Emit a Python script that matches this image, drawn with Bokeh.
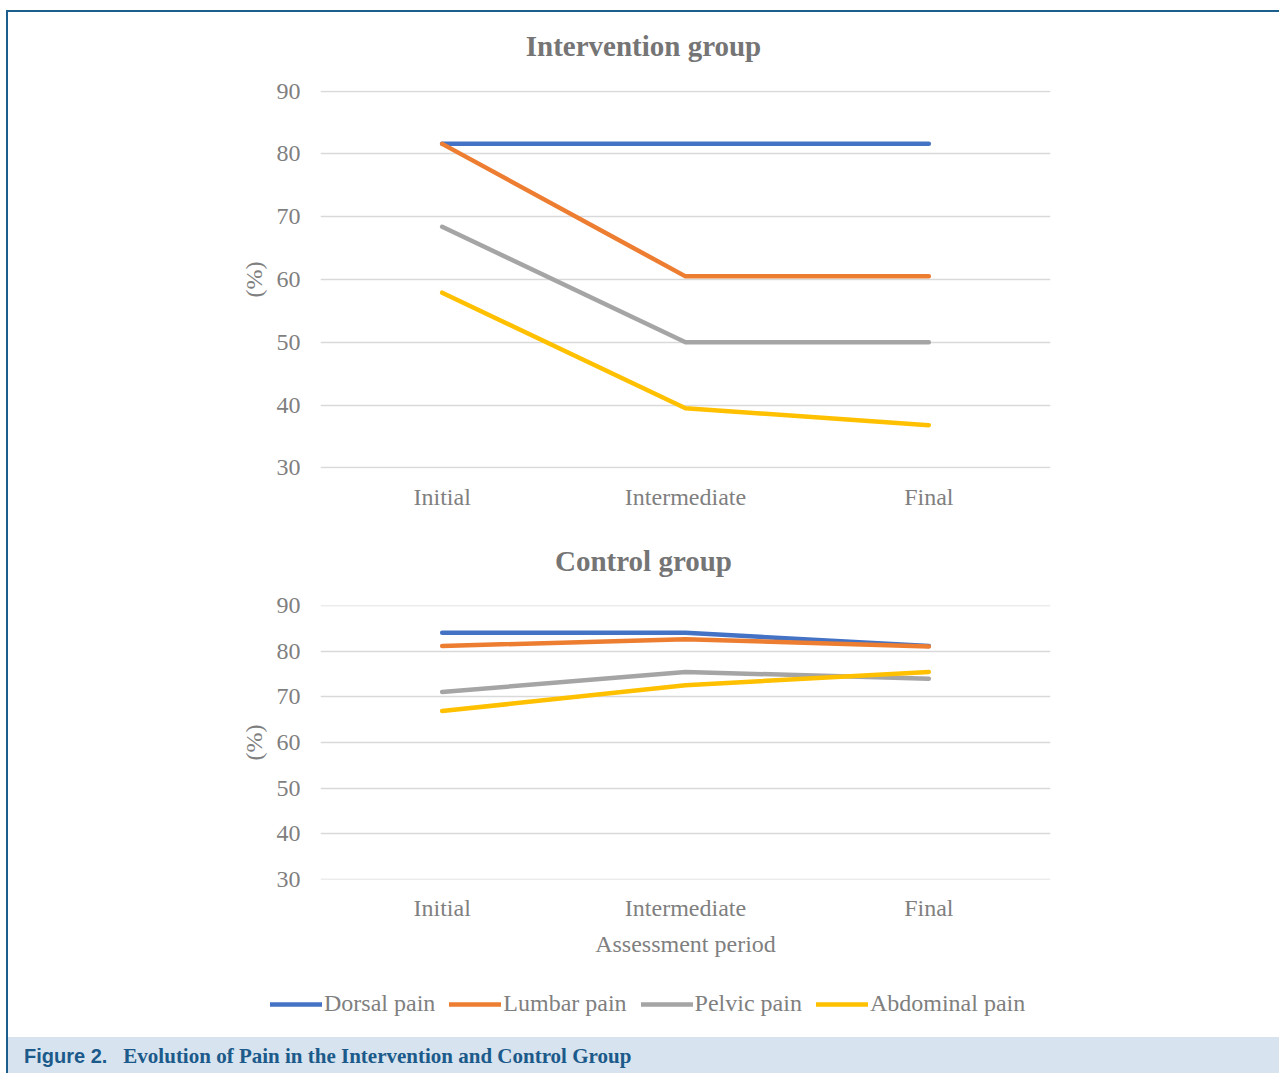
from bokeh.plotting import figure
from bokeh.models import (FactorRange, Range1d, FixedTicker, Legend, LegendItem,
                          Div, Spacer)
from bokeh.layouts import column, row
from bokeh.embed import file_html
from bokeh.resources import INLINE

periods = ["Initial", "Intermediate", "Final"]
series_names = ["Dorsal pain", "Lumbar pain", "Pelvic pain", "Abdominal pain"]
colors = ["#4472C4", "#ED7D31", "#A5A5A5", "#FFC000"]
y_ticks = [30, 40, 50, 60, 70, 80, 90]

# Intervention group (%)
int_dorsal = [81.6, 81.6, 81.6]
int_lumbar = [81.6, 60.5, 60.5]
int_pelvic = [68.4, 50.0, 50.0]
int_abdominal = [57.9, 39.5, 36.8]

# Control group (%)
ctl_dorsal = [84.1, 84.1, 81.2]
ctl_lumbar = [81.2, 82.7, 81.1]
ctl_pelvic = [71.1, 75.5, 74.0]
ctl_abdominal = [66.9, 72.6, 75.5]

SERIF = "Liberation Serif"
GRAY = "#7f7f7f"
BLUE_BORDER = "#1c5f8e"

FIG_W = 1271
LINE_W = 4.5


def make_fig(data, height, top, bottom, frame_h, xlabel=None):
    p = figure(width=FIG_W, height=height, x_range=FactorRange(*periods, range_padding=0),
               y_range=Range1d(29.9, 90.1), output_backend="svg", toolbar_location=None,
               frame_width=730, frame_height=frame_h,
               min_border_left=312, min_border_right=FIG_W - 312 - 730,
               min_border_top=top, min_border_bottom=bottom, margin=0)
    p.outline_line_color = None
    p.background_fill_color = "white"
    p.border_fill_color = "white"
    p.xgrid.grid_line_color = None
    p.ygrid.grid_line_color = "#d9d9d9"
    p.ygrid.grid_line_width = 1.5
    p.yaxis.ticker = FixedTicker(ticks=y_ticks)
    for ax in (p.xaxis[0], p.yaxis[0]):
        ax.axis_line_color = None
        ax.major_tick_line_color = None
        ax.minor_tick_line_color = None
        ax.major_tick_out = 0
        ax.major_tick_in = 0
        ax.major_label_text_font = SERIF
        ax.major_label_text_font_size = "24px"
        ax.major_label_text_color = GRAY
        ax.axis_label_text_font = SERIF
        ax.axis_label_text_font_size = "24px"
        ax.axis_label_text_color = GRAY
        ax.axis_label_text_font_style = "normal"
    p.xaxis.major_label_standoff = 15
    p.yaxis.major_label_standoff = 20
    p.yaxis.axis_label = "(%)"
    p.yaxis.axis_label_standoff = 7
    if xlabel:
        p.xaxis.axis_label = xlabel
        p.xaxis.axis_label_standoff = 7
    for vals, c in zip(data, colors):
        p.line(periods, vals, line_color=c, line_width=LINE_W, line_cap="round", line_join="round")
    return p


def title_div(text, height, pad_top):
    return Div(text=text, width=FIG_W, height=height, margin=0,
               styles={"font-family": "'Liberation Serif'", "font-weight": "bold",
                       "font-size": "29px", "color": "#757575", "text-align": "center",
                       "line-height": "40px", "padding-top": f"{pad_top}px",
                       "box-sizing": "border-box", "width": f"{FIG_W}px",
                       "background-color": "white", "overflow": "visible"})


title1 = title_div("Intervention group", 55, 14)
fig1 = make_fig([int_dorsal, int_lumbar, int_pelvic, int_abdominal],
                height=458, top=23, bottom=57, frame_h=378)
title2 = title_div("Control group", 57, 16)
fig2 = make_fig([ctl_dorsal, ctl_lumbar, ctl_pelvic, ctl_abdominal],
                height=388, top=23, bottom=91, frame_h=274, xlabel="Assessment period")

# legend strip (its own small plot; the legend swatches need a non-empty source)
LEG_H = 67
leg_fig = figure(width=FIG_W, height=LEG_H, x_range=Range1d(0, 1), y_range=Range1d(0, 1),
                 output_backend="svg", toolbar_location=None, min_border=0, margin=0,
                 frame_width=FIG_W, frame_height=LEG_H)
leg_fig.axis.visible = False
leg_fig.grid.visible = False
leg_fig.outline_line_color = None
nan = float("nan")
leg_rs = [leg_fig.line([nan], [nan], line_color=c, line_width=LINE_W, line_cap="round")
          for c in colors]
legend = Legend(items=[LegendItem(label=n, renderers=[r]) for n, r in zip(series_names, leg_rs)],
                orientation="horizontal", location=(262, 20),
                glyph_width=52, glyph_height=24, label_height=24, label_standoff=2,
                spacing=14, padding=0, margin=0,
                border_line_color=None, background_fill_alpha=0,
                label_text_font=SERIF, label_text_font_size="24px", label_text_color=GRAY)
leg_fig.add_layout(legend, "center")

caption = Div(
    text=('<span style="font-family:\'Liberation Sans\';font-weight:bold;font-size:20px;">Figure 2.</span>'
          '<span style="font-family:\'Liberation Serif\';font-weight:bold;font-size:21px;margin-left:16px;">'
          'Evolution of Pain in the Intervention and Control Group</span>'),
    width=FIG_W, height=36, margin=0,
    styles={"background-color": "#d7e3ee", "color": "#1b5a8a", "font-size": "20px",
            "line-height": "38px", "padding-left": "16px", "box-sizing": "border-box",
            "white-space": "nowrap", "width": f"{FIG_W}px", "overflow": "hidden"})

top_line = Div(text="", width=1273, height=2, margin=0, styles={"background-color": BLUE_BORDER})
left_line = Div(text="", width=2, height=1061, margin=0, styles={"background-color": BLUE_BORDER})

layout = column(
    Spacer(width=1279, height=10, margin=0),
    row(Spacer(width=6, height=10, margin=0),
        column(top_line,
               row(left_line,
                   column(title1, fig1, title2, fig2, row(leg_fig, margin=0), caption, margin=0),
                   margin=0),
               margin=0),
        margin=0),
    margin=0,
)

open("out.html", "w").write(file_html(layout, INLINE))
